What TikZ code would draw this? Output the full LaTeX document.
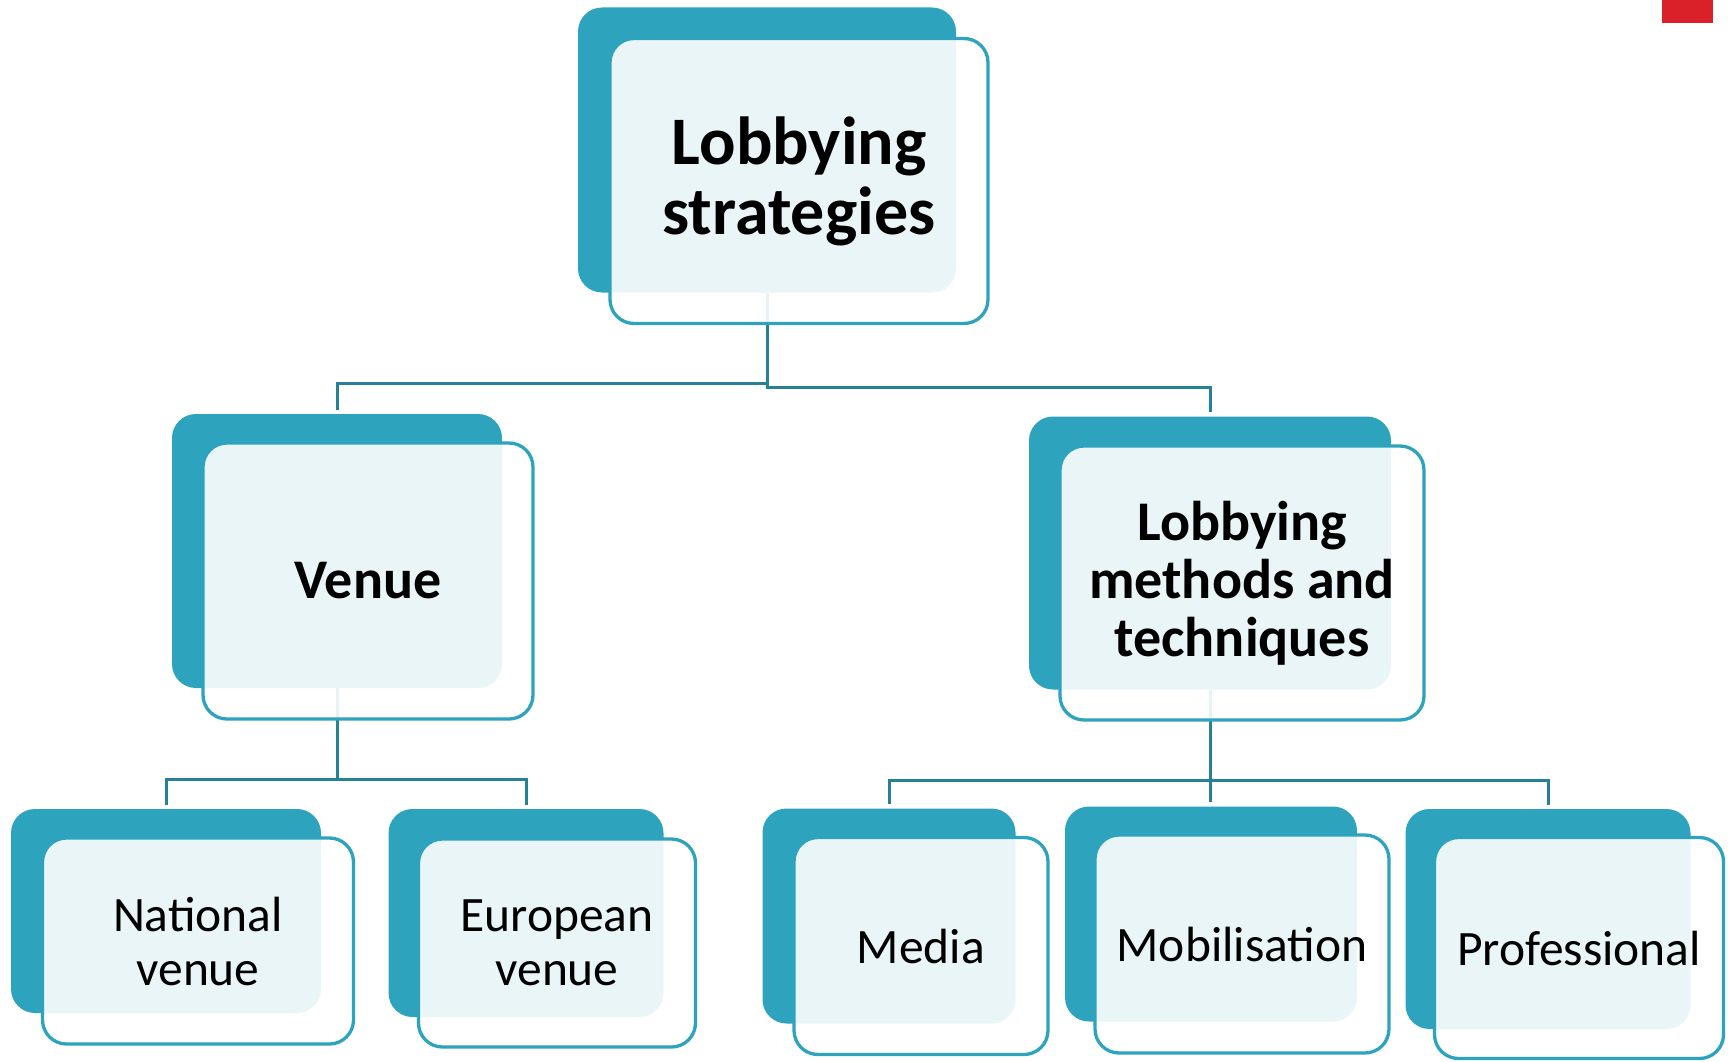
\documentclass[tikz,border=0pt]{standalone}
\usepackage{fontspec}
\setmainfont{Carlito}
\usepackage{tikz}
\definecolor{boxdark}{RGB}{46,163,190}
\definecolor{linkdark}{RGB}{38,128,150}
\definecolor{cornerred}{RGB}{218,32,40}
\tikzstyle{darkbox}=[
        rectangle,
        rounded corners=24pt,
        fill=boxdark,
        inner sep=0pt
]
\tikzstyle{frontbox}=[
        rectangle,
        rounded corners=24pt,
        draw=boxdark,
        line width=3.3pt,
        fill=white,
        fill opacity=0.9,
        text opacity=1,
        align=center,
        inner sep=0pt
]
\tikzstyle{link}=[
        draw=linkdark,
        line width=3pt,
        shorten >=4pt
]
\tikzstyle{bigtext}=[font=\bfseries\fontsize{68}{70}\selectfont]
\tikzstyle{midtext}=[font=\bfseries\fontsize{56}{58}\selectfont]
\tikzstyle{smalltext}=[font=\fontsize{49.5}{54}\selectfont]

\begin{document}
\begin{tikzpicture}[x=1pt,y=-1pt]
                    \useasboundingbox (0,0) rectangle (1730,1062);
                    \fill[cornerred] (1662,0) rectangle (1713,23);

                    % back boxes
                    \node[darkbox, minimum width=378pt, minimum height=285pt] (strat) at (767,150) {};
                    \node[darkbox, minimum width=330pt, minimum height=274pt] (venue) at (337,551) {};
                    \node[darkbox, minimum width=362pt, minimum height=273pt] (methods) at (1210,553) {};
                    \node[darkbox, minimum width=310pt, minimum height=204pt] (national) at (166,911) {};
                    \node[darkbox, minimum width=275pt, minimum height=208pt] (european) at (526,913) {};
                    \node[darkbox, minimum width=253pt, minimum height=215pt] (media) at (889,916) {};
                    \node[darkbox, minimum width=292pt, minimum height=215pt] (mobil) at (1211,914) {};
                    \node[darkbox, minimum width=285pt, minimum height=220pt] (prof) at (1548,919) {};

                    % connectors
                    \draw[link] (strat.south) -- ++(0,91) -| (venue.north);
                    \draw[link] (strat.south) -- ++(0,95) -| (methods.north);
                    \draw[link] (venue.south) -- ++(0,91) -| (national.north);
                    \draw[link] (venue.south) -- ++(0,91) -| (european.north);
                    \draw[link] (methods.south) -- ++(0,91) -| (media.north);
                    \draw[link] (methods.south) -- (methods.south |- mobil.north);
                    \draw[link] (methods.south) -- ++(0,91) -| (prof.north);

                    % front boxes
                    \node[frontbox, bigtext, minimum width=378pt, minimum height=285pt] (stratf) at ([shift={(32,31)}]strat.center) {Lobbying\\strategies};
                    \node[frontbox, midtext, minimum width=330pt, minimum height=276pt] (venuef) at ([shift={(31,30)}]venue.center) {Venue};
                    \node[frontbox, midtext, minimum width=364pt, minimum height=274pt] (methodsf) at ([shift={(32,30)}]methods.center) {Lobbying\\methods and\\techniques};
                    \node[frontbox, smalltext, minimum width=311pt, minimum height=206pt] (nationalf) at ([shift={(32,30)}]national.center) {National\\venue};
                    \node[frontbox, smalltext, minimum width=277pt, minimum height=208pt] (europeanf) at ([shift={(31,30)}]european.center) {European\\venue};
                    \node[frontbox, smalltext, minimum width=254pt, minimum height=217pt] (mediaf) at ([shift={(32,30)}]media.center) {Media};
                    \node[frontbox, smalltext, minimum width=294pt, minimum height=218pt] (mobilf) at ([shift={(31,30)}]mobil.center) {Mobilisation};
                    \node[frontbox, smalltext, minimum width=289pt, minimum height=221pt] (proff) at ([shift={(31,29)}]prof.center) {Professional};
\end{tikzpicture}
\end{document}
